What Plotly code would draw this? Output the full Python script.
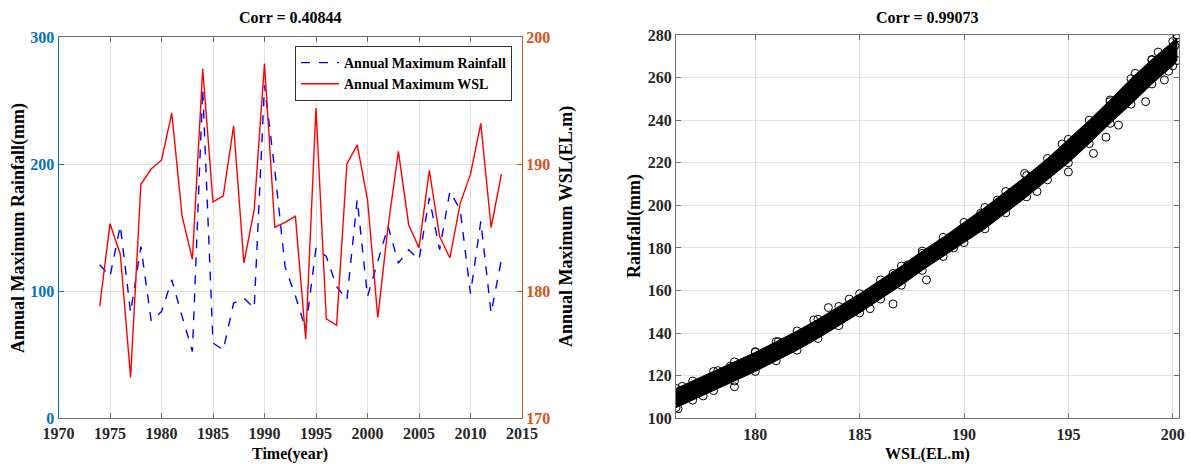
import plotly.graph_objects as go

# ---------------- data: left panel ----------------
years = list(range(1974, 2014))
rainfall = [120.7, 111.4, 151.4, 83.0, 135.0, 76.5, 83.8, 108.8, 80.0, 52.3,
            259.0, 59.0, 53.6, 90.5, 94.4, 86.5, 262.0, 195.0, 119.0, 96.0,
            70.0, 133.8, 127.2, 103.5, 93.0, 172.0, 95.7, 123.0, 150.9, 122.0,
            132.5, 124.6, 173.3, 132.5, 178.5, 164.0, 98.0, 154.8, 82.6, 124.6]
wsl = [178.8, 185.3, 182.9, 173.2, 188.4, 189.6, 190.3, 194.0, 185.9, 182.5,
       197.5, 187.0, 187.5, 193.0, 182.2, 186.4, 197.9, 185.0, 185.4, 185.9,
       176.2, 194.4, 177.8, 177.3, 190.0, 191.5, 187.2, 177.9, 185.1, 191.0,
       185.2, 183.4, 189.5, 184.3, 182.6, 186.9, 189.2, 193.2, 185.0, 189.2]
year_ticks = [1970, 1975, 1980, 1985, 1990, 1995, 2000, 2005, 2010, 2015]
rain_ticks = [0, 100, 200, 300]
wsl_ticks = [170, 180, 190, 200]

# ---------------- data: right panel ----------------
band_wsl = [176.2, 177, 178, 179, 180, 181, 182, 183, 184, 185, 186, 187, 188,
            189, 190, 191, 192, 193, 194, 195, 196, 197, 198, 199, 200, 200.2]
band_upper = [114.0, 117.5, 122.0, 126.5, 131.0, 136.0, 141.0, 146.5, 152.5,
              158.5, 165.0, 171.5, 178.5, 185.0, 192.0, 199.0, 206.5, 214.0,
              222.0, 231.0, 240.0, 249.5, 259.5, 268.5, 277.0, 278.5]
band_lower = [105.0, 108.5, 113.0, 117.5, 122.0, 127.0, 132.0, 137.5, 143.5,
              149.5, 156.0, 162.5, 169.5, 176.0, 182.5, 189.0, 196.5, 204.0,
              212.0, 220.0, 229.0, 238.5, 247.5, 257.0, 265.5, 268.0]
extra_wsl = [184.5, 186.6, 186.6, 180.0, 178.2, 179.0, 181.1, 182.8, 188.0, 188.2,
             194.7, 195.0, 196.2, 197.4, 198.7, 199.6, 200.2, 199.0, 197.0, 195.6,
             194.0, 192.9, 191.6, 190.8, 188.9, 176.3, 176.5, 177.5, 178.8, 183.5,
             185.5, 187.3, 189.5, 193.5, 196.8, 198.2, 199.3, 199.8, 200.1, 176.4]
extra_rain = [156.0, 153.7, 168.0, 131.3, 122.4, 114.8, 136.0, 146.2, 177.5, 165.0,
              228.8, 215.7, 224.4, 237.7, 248.7, 258.9, 280.0, 268.3, 248.7, 231.4,
              219.6, 215.0, 202.5, 196.3, 182.2, 104.5, 115.0, 110.5, 124.5, 152.0,
              151.5, 172.0, 180.0, 206.5, 232.0, 262.0, 272.0, 263.0, 275.0, 111.0]
x2_ticks = [180, 185, 190, 195, 200]
y2_ticks = list(range(100, 281, 20))

FONT = "Liberation Serif"
BLUE_AX = "#0072BD"
ORANGE_AX = "#D95319"
GRID = "#E2E2E2"
BOX = "#6E6E6E"

W, H = 1191, 464
def px(x):
    return x / W
def py(y):
    return 1 - y / H

fig = go.Figure()

fig.add_trace(go.Scatter(x=years, y=rainfall, mode="lines", name="Annual Maximum Rainfall",
                         line=dict(color="#0000FF", width=1.4, dash="dash"),
                         xaxis="x", yaxis="y"))
fig.add_trace(go.Scatter(x=years, y=wsl, mode="lines", name="Annual Maximum WSL",
                         line=dict(color="#FF0000", width=1.4),
                         xaxis="x", yaxis="y2"))

# right panel: dense band + edge circles + outliers
fig.add_trace(go.Scatter(x=band_wsl + band_wsl[::-1], y=band_upper + band_lower[::-1],
                         fill="toself", fillcolor="#000000", mode="lines",
                         line=dict(color="#000000", width=1), showlegend=False,
                         xaxis="x3", yaxis="y3"))
fig.add_trace(go.Scatter(x=band_wsl + band_wsl + extra_wsl,
                         y=band_upper + band_lower + extra_rain,
                         mode="markers", showlegend=False,
                         marker=dict(symbol="circle-open", size=8, color="#000000",
                                     line=dict(width=1, color="#000000")),
                         xaxis="x3", yaxis="y3"))

tickfont = dict(family=FONT, size=16, color="#262626", weight="bold")

left_dom = [px(58.5), px(522)]
right_dom = [px(676), px(1179)]

fig.update_layout(
    width=W, height=H,
    margin=dict(l=0, r=0, t=0, b=0, autoexpand=False),
    paper_bgcolor="white", plot_bgcolor="white",
    font=dict(family=FONT, size=16, color="#000000", weight="bold"),
    showlegend=True,
    legend=dict(x=px(512), y=py(46), xanchor="right", yanchor="top",
                bgcolor="white", bordercolor="#333333", borderwidth=1,
                font=dict(family=FONT, size=14, color="#000000", weight="bold"),
                itemwidth=38, tracegroupgap=0),
    xaxis=dict(domain=left_dom, range=[1970, 2015], tickvals=year_ticks,
               showgrid=True, gridcolor=GRID, zeroline=False,
               showline=True, linecolor=BOX, linewidth=1, mirror="ticks",
               ticks="inside", ticklen=5, tickcolor=BOX, tickfont=tickfont,
               ticklabelstandoff=1, automargin=False, anchor="y"),
    yaxis=dict(domain=[py(418), py(37)], range=[0, 300], tickvals=rain_ticks,
               showgrid=True, gridcolor=GRID, zeroline=False,
               showline=True, linecolor=BLUE_AX, linewidth=1,
               ticks="inside", ticklen=5, tickcolor=BLUE_AX,
               tickfont=dict(family=FONT, size=16, color=BLUE_AX, weight="bold"),
               automargin=False, anchor="x"),
    yaxis2=dict(range=[170, 200], tickvals=wsl_ticks, overlaying="y", side="right",
                showgrid=False, zeroline=False,
                showline=True, linecolor=ORANGE_AX, linewidth=1,
                ticks="inside", ticklen=5, tickcolor=ORANGE_AX,
                tickfont=dict(family=FONT, size=16, color=ORANGE_AX, weight="bold"),
                automargin=False, anchor="x"),
    xaxis3=dict(domain=right_dom, range=[176.2, 200.3], tickvals=x2_ticks,
                showgrid=True, gridcolor=GRID, zeroline=False,
                showline=True, linecolor=BOX, linewidth=1, mirror="ticks",
                ticks="inside", ticklen=5, tickcolor=BOX, tickfont=tickfont,
                ticklabelstandoff=1, automargin=False, anchor="y3"),
    yaxis3=dict(domain=[py(418.3), py(35)], range=[100, 280], tickvals=y2_ticks,
                showgrid=True, gridcolor=GRID, zeroline=False,
                showline=True, linecolor=BOX, linewidth=1, mirror="ticks",
                ticks="inside", ticklen=5, tickcolor=BOX, tickfont=tickfont,
                automargin=False, anchor="x3"),
)

ann_font = dict(family=FONT, size=16, color="#000000", weight="bold")
vfont = dict(family=FONT, size=18, color="#000000", weight="bold")
annotations = [
    dict(text="Corr = 0.40844", x=px(290), y=py(17), font=ann_font),
    dict(text="Corr = 0.99073", x=px(927.5), y=py(17), font=ann_font),
    dict(text="Time(year)", x=px(290), y=py(454), font=ann_font),
    dict(text="WSL(EL.m)", x=px(927.5), y=py(454), font=ann_font),
    dict(text="Annual Maximum Rainfall(mm)", x=px(18), y=py(228), font=vfont, textangle=-90),
    dict(text="Annual Maximum WSL(EL.m)", x=px(566), y=py(227), font=vfont, textangle=-90),
    dict(text="Rainfall(mm)", x=px(635), y=py(226), font=vfont, textangle=-90),
]
for a in annotations:
    a.update(xref="paper", yref="paper", showarrow=False, xanchor="center", yanchor="middle")
fig.update_layout(annotations=annotations)

fig.write_html("out.html")
